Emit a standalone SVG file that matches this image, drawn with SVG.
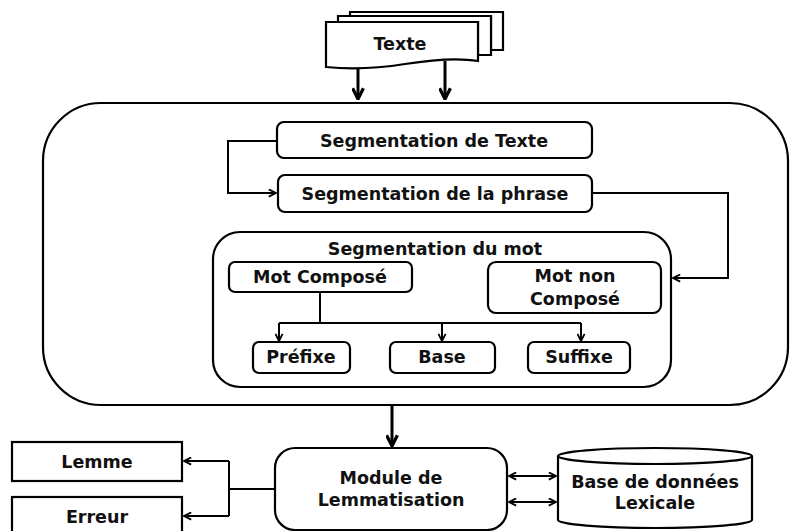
<svg xmlns="http://www.w3.org/2000/svg" width="790" height="531" viewBox="0 0 790 531">
<style>
.box{fill:#fff;stroke:#000;stroke-width:2.2}
.t{font-family:"DejaVu Sans","Liberation Sans",sans-serif;font-weight:bold;font-size:17.5px;fill:#111;text-anchor:middle;dominant-baseline:central}
.c{fill:none;stroke:#000;stroke-width:2}
.ct{fill:none;stroke:#000;stroke-width:3}
</style>
<defs>
<marker id="ah" viewBox="0 0 10 10" refX="9" refY="5" markerWidth="9" markerHeight="9" orient="auto" markerUnits="userSpaceOnUse">
<path d="M1,1 L9,5 L1,9" fill="none" stroke="#000" stroke-width="2"/>
</marker>
<marker id="ahs" viewBox="0 0 10 10" refX="1" refY="5" markerWidth="9" markerHeight="9" orient="auto" markerUnits="userSpaceOnUse">
<path d="M9,1 L1,5 L9,9" fill="none" stroke="#000" stroke-width="2"/>
</marker>
<marker id="ahb" viewBox="0 0 12 12" refX="11" refY="6" markerWidth="13" markerHeight="13" orient="auto" markerUnits="userSpaceOnUse">
<path d="M1,1 L11,6 L1,11" fill="none" stroke="#000" stroke-width="3"/>
</marker>
</defs>
<rect width="790" height="531" fill="#fff"/>
<g id="texte">
<path class="box" d="M350,12 H503 V50 H491 V16 H350 Z"/>
<path class="box" d="M338,16 H491 V55 H478 V22 H338 Z"/>
<path class="box" d="M326,22 H478 V61 C455,57 430,60 405,64 C380,68 355,70 326,67 Z"/>
<text class="t" x="400" y="44">Texte</text>
</g>
<g id="container">
<rect class="box" x="43" y="103" width="745" height="302" rx="58" ry="58"/>
</g>
<g id="seg-texte">
<rect class="box" x="277" y="122" width="315" height="36" rx="7"/>
<text class="t" x="434" y="141">Segmentation de Texte</text>
</g>
<g id="seg-phrase">
<rect class="box" x="278" y="175" width="314" height="37" rx="7"/>
<text class="t" x="435" y="194">Segmentation de la phrase</text>
</g>
<g id="seg-mot">
<rect class="box" x="213" y="232" width="458" height="155" rx="27"/>
<text class="t" x="435" y="249">Segmentation du mot</text>
</g>
<g id="mot-compose">
<rect class="box" x="229" y="262" width="183" height="30" rx="6"/>
<text class="t" x="320" y="277">Mot Composé</text>
</g>
<g id="mot-non-compose">
<rect class="box" x="488" y="262" width="173" height="51" rx="8"/>
<text class="t" x="575" y="276">Mot non</text>
<text class="t" x="575" y="299">Composé</text>
</g>
<g id="prefixe">
<rect class="box" x="253" y="342" width="97" height="31" rx="6"/>
<text class="t" x="301" y="357">Préfixe</text>
</g>
<g id="base">
<rect class="box" x="390" y="342" width="105" height="31" rx="6"/>
<text class="t" x="442" y="357">Base</text>
</g>
<g id="suffixe">
<rect class="box" x="528" y="342" width="102" height="31" rx="6"/>
<text class="t" x="579" y="357">Suffixe</text>
</g>
<g id="module">
<rect class="box" x="275" y="448" width="232" height="82" rx="20"/>
<text class="t" x="391" y="478">Module de</text>
<text class="t" x="391" y="500">Lemmatisation</text>
</g>
<g id="bdd">
<path class="box" d="M558,456 A97,8 0 0 1 752,456 V520 A97,8 0 0 1 558,520 Z"/>
<path class="box" fill="none" d="M558,456 A97,8 0 0 0 752,456"/>
<text class="t" x="655" y="482">Base de données</text>
<text class="t" x="655" y="503">Lexicale</text>
</g>
<g id="lemme">
<rect class="box" x="12" y="442" width="170" height="39"/>
<text class="t" x="97" y="462">Lemme</text>
</g>
<g id="erreur">
<rect class="box" x="12" y="497" width="170" height="42"/>
<text class="t" x="97" y="517">Erreur</text>
</g>
<g id="connectors">
<path class="ct" d="M358,68 V99" marker-end="url(#ahb)"/>
<path class="ct" d="M445,61 V99" marker-end="url(#ahb)"/>
<path class="c" d="M277,141 H228 V193 H276" marker-end="url(#ah)"/>
<path class="c" d="M592,193 H728 V278 H673" marker-end="url(#ah)"/>
<path class="c" d="M320,292 V323"/>
<path class="c" d="M279,323 H581"/>
<path class="c" d="M279,323 V341" marker-end="url(#ah)"/>
<path class="c" d="M442,323 V341" marker-end="url(#ah)"/>
<path class="c" d="M581,323 V341" marker-end="url(#ah)"/>
<path class="ct" d="M392,405 V446" marker-end="url(#ahb)"/>
<path class="c" d="M509,476 H556" marker-start="url(#ahs)" marker-end="url(#ah)"/>
<path class="c" d="M509,502 H556" marker-start="url(#ahs)" marker-end="url(#ah)"/>
<path class="c" d="M275,489 H229"/>
<path class="c" d="M229,461 V516"/>
<path class="c" d="M229,461 H184" marker-end="url(#ah)"/>
<path class="c" d="M229,516 H184" marker-end="url(#ah)"/>
</g>
</svg>
